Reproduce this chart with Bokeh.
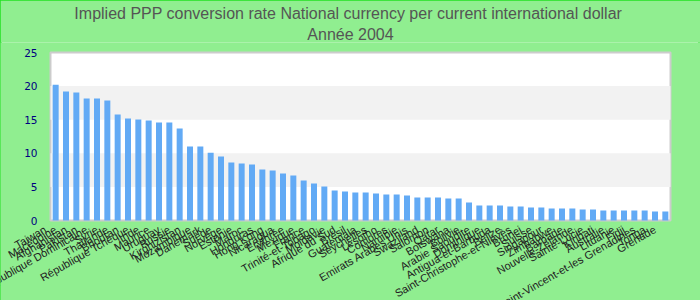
from bokeh.plotting import figure
from bokeh.models import Range1d, Title, ColumnDataSource, FixedTicker
from bokeh.embed import file_html
from bokeh.resources import INLINE

countries = [
    "Taiwan", "Macédoine", "Afghanistan", "Pakistan", "République Dominicaine",
    "Syrie", "Thaïlande", "Bhoutan", "République Tchèque", "Inde",
    "Maurice", "Uruguay", "Russie", "Kirghizistan", "Mozambique",
    "Danemark", "Suède", "Norvège", "Estonie", "Maroc",
    "Honduras", "Hong Kong", "Nicaragua", "Erythrée", "Mexique",
    "France", "Trinité-et-Tobago", "Moldavie", "Afrique du Sud", "Brésil",
    "Guatemala", "Seychelles", "Lesotho", "Comores", "Namibie",
    "Emirats Arabes Unis", "Swaziland", "Salomon", "Qatar", "Botswana",
    "Bolivie", "Arabie Saoudite", "Dominique", "Antigua-et-Barbuda", "Belize",
    "Saint-Christophe-et-Niévès", "Brunei", "Suisse", "Singapour", "Zimbabwe",
    "Barbade", "Nouvelle-Zélande", "Sainte-Lucie", "Kiribati", "Australie",
    "Lituanie", "Fidji", "Saint-Vincent-et-les Grenadines", "Tonga", "Grenade",
]
values = [
    20.2, 19.2, 19.05, 18.15, 18.15,
    17.86, 15.77, 15.18, 15.03, 14.88,
    14.58, 14.58, 13.69, 11.0, 11.0,
    10.1, 9.52, 8.63, 8.48, 8.33,
    7.59, 7.44, 6.99, 6.7, 5.95,
    5.5, 5.06, 4.46, 4.32, 4.17,
    4.17, 4.02, 3.87, 3.87, 3.72,
    3.42, 3.42, 3.42, 3.27, 3.27,
    2.68, 2.23, 2.23, 2.23, 2.08,
    2.08, 1.93, 1.93, 1.79, 1.79,
    1.79, 1.64, 1.64, 1.49, 1.49,
    1.49, 1.49, 1.49, 1.34, 1.34,
]
y_ticks = [0, 5, 10, 15, 20, 25]
title_main = "Implied PPP conversion rate  National currency per current international dollar"
title_sub = "Année 2004"

# layout (pixels): plot area 620 x 168, 50 px left margin, 30 px right, 80 px below,
# 10 px of frame kept above the plot area so the top tick label is not clipped
W, H = 700, 300
PLOT_L, PLOT_R, PLOT_H, BELOW, ABOVE = 50, 30, 168, 80, 10
LABEL_SHIFT = 1.0  # category labels sit about one bar to the left in the original
n = len(countries)
px_per_cat = (W - PLOT_L - PLOT_R) / n
y_max = y_ticks[-1]
px_per_unit = PLOT_H / y_max

idx = list(range(n))
source = ColumnDataSource(data=dict(idx=idx, value=values, country=countries))

p = figure(
    width=W, height=H,
    x_range=Range1d(-0.5 - PLOT_L / px_per_cat, n - 0.5 + PLOT_R / px_per_cat),
    y_range=Range1d(-BELOW / px_per_unit, y_max + ABOVE / px_per_unit),
    output_backend="svg", toolbar_location=None,
    title=title_main,
    min_border_left=0, min_border_right=0, min_border_bottom=0, min_border_top=0,
)
p.title.align = "center"
p.title.text_font = "Liberation Sans"
p.title.text_font_size = "16px"
p.title.text_font_style = "normal"
p.title.text_color = "#555555"
p.title.standoff = 4
p.add_layout(Title(text=title_sub, align="center", text_font="Liberation Sans",
                   text_font_size="16px", text_font_style="normal",
                   text_color="#555555", standoff=0), "above")

p.border_fill_color = "#90ee90"
p.background_fill_color = "#90ee90"
p.outline_line_color = None
p.styles = {"outline": "2px solid #22e022", "outline-offset": "-2px"}
p.grid.visible = False

# plot area (white) with light-grey alternate bands
p.quad(left=[-0.5], right=[n - 0.5], bottom=[y_ticks[0]], top=[y_max],
       fill_color="white", line_color="#cccccc", line_width=2)
p.quad(left=-0.5, right=n - 0.5, bottom=y_ticks[1:-1:2], top=y_ticks[2::2],
       fill_color="#f2f2f2", line_color=None)

p.vbar(x="idx", top="value", width=0.58, source=source,
       fill_color="#62aaf5", line_color=None)

p.yaxis.fixed_location = -0.5
p.yaxis.ticker = FixedTicker(ticks=y_ticks)
p.yaxis.axis_line_color = None
p.yaxis.major_tick_line_color = None
p.yaxis.minor_tick_line_color = None
p.yaxis.major_label_text_color = "#000080"
p.yaxis.major_label_text_font = "DejaVu Sans"
p.yaxis.major_label_text_font_size = "10.5px"
p.yaxis.major_label_standoff = 7

label_pos = [i - LABEL_SHIFT for i in idx]
p.xaxis.fixed_location = 0
p.xaxis.ticker = FixedTicker(ticks=label_pos)
p.xaxis.major_label_overrides = {x: c for x, c in zip(label_pos, countries)}
p.xaxis.axis_line_color = None
p.xaxis.major_tick_line_color = None
p.xaxis.minor_tick_line_color = None
p.xaxis.major_label_orientation = 0.52
p.xaxis.major_label_standoff = 2
p.xaxis.major_label_text_font = "Liberation Sans"
p.xaxis.major_label_text_font_size = "11px"
p.xaxis.major_label_text_color = "#222222"

open("out.html", "w").write(file_html(p, INLINE))
